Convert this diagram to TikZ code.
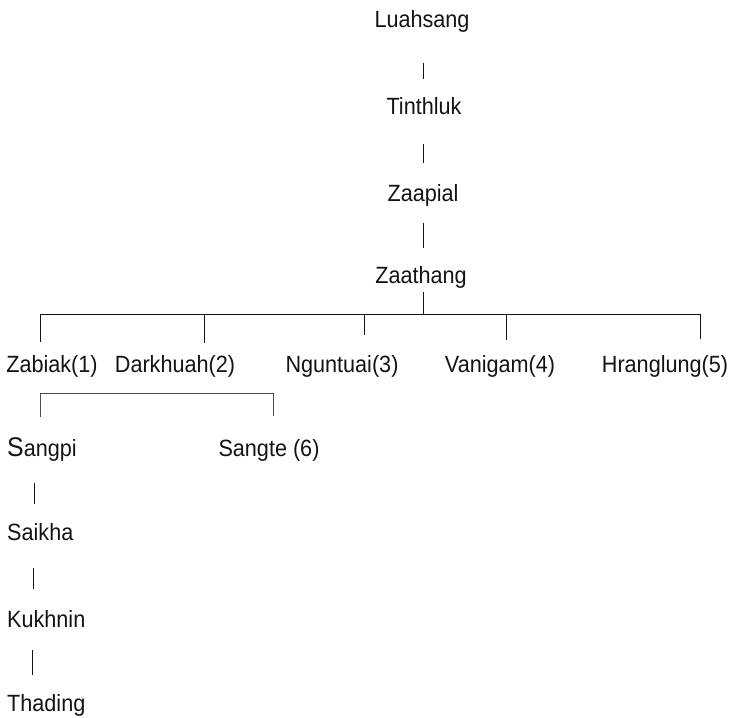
\documentclass[tikz,border=0pt]{standalone}
\usepackage{fontspec}
\setmainfont{Liberation Sans}[FakeStretch=0.92]
\definecolor{ink}{RGB}{22,18,16}
\begin{document}
\begin{tikzpicture}[x=1pt,y=-1pt,
  lbl/.style={inner sep=0pt,anchor=base,text=ink,font=\fontsize{23.5}{26}\selectfont},
  lbw/.style={lbl,anchor=base west},
  ln/.style={line width=1pt,ink}]
\useasboundingbox (0,0) rectangle (730,717);
% spine
\node[lbl] (luah) at (422,28) {Luahsang};
\node[lbl] (tinth) at (424,114) {Tinthluk};
\node[lbl] (zaap) at (423,201) {Zaapial};
\node[lbl] (zaat) at (421,283) {Zaathang};
\coordinate (l1a) at (423,63);  \coordinate (l1b) at (423,79);
\coordinate (l2a) at (423,144); \coordinate (l2b) at (423,163);
\coordinate (l3a) at (423,223); \coordinate (l3b) at (423,248);
\coordinate (l4a) at (423,292); \coordinate (hm) at (423,314);
\draw[ln] (l1a) -- (l1b);
\draw[ln] (l2a) -- (l2b);
\draw[ln] (l3a) -- (l3b);
\draw[ln] (l4a) -- (hm);
% sibling bar
\coordinate (hl) at (40,314);
\coordinate (h2) at (204,314);
\coordinate (h3) at (364,314);
\coordinate (h4) at (506,314);
\coordinate (hr) at (700,314);
\draw[ln] (hl) -- (hr);
\coordinate (d1) at (40,342);
\coordinate (d2) at (204,343);
\coordinate (d3) at (364,335);
\coordinate (d4) at (506,340);
\coordinate (d5) at (700,339);
\draw[ln] (hl) -- (d1);
\draw[ln] (h2) -- (d2);
\draw[ln] (h3) -- (d3);
\draw[ln] (h4) -- (d4);
\draw[ln] (hr) -- (d5);
\node[lbl] (zab) at (52,372) {Zabiak(1)};
\node[lbl] (dar) at (175,372) {Darkhuah(2)};
\node[lbl] (ngu) at (342,372) {Nguntuai(3)};
\node[lbl] (van) at (500,372) {Vanigam(4)};
\node[lbl] (hra) at (665,372) {Hranglung(5)};
% Zabiak's sons
\coordinate (b1) at (40,417);
\coordinate (b2) at (40,393);
\coordinate (b3) at (273,393);
\coordinate (b4) at (273,416);
\draw[line width=0.8pt,ink!75] (b1) -- (b2) -- (b3) -- (b4);
\node[lbw] (sangpi) at (7,456) {{\fontsize{27}{26}\selectfont S}angpi};
\node[lbl] (sangte) at (269,456) {Sangte (6)};
% line of Sangpi
\node[lbw] (saikha) at (7,540) {Saikha};
\node[lbw] (kukh) at (7,627) {Kukhnin};
\node[lbw] (thad) at (7,711) {Thading};
\coordinate (s1a) at (34,483); \coordinate (s1b) at (34,504);
\coordinate (s2a) at (33,568); \coordinate (s2b) at (33,589);
\coordinate (s3a) at (32,650); \coordinate (s3b) at (32,675);
\draw[ln] (s1a) -- (s1b);
\draw[ln] (s2a) -- (s2b);
\draw[ln] (s3a) -- (s3b);
\end{tikzpicture}
\end{document}
